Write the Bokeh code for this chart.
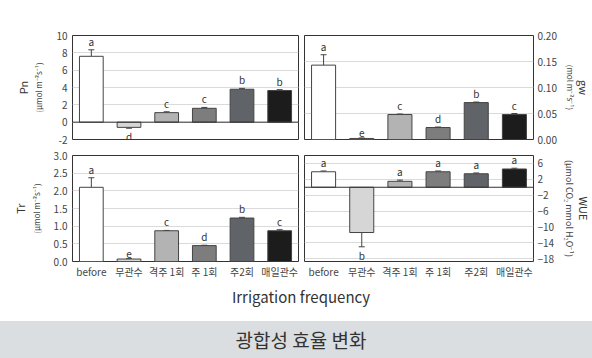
from bokeh.plotting import figure
from bokeh.layouts import column, row
from bokeh.models import (ColumnDataSource, LinearAxis, FixedTicker, Span, Whisker,
                          TeeHead, Div, Range1d, NumeralTickFormatter, FactorRange)
from bokeh.embed import file_html
from bokeh.resources import INLINE
from bokeh.core.properties import value

# ---------------- data ----------------
categories = ["before", "무관수", "격주 1회", "주 1회", "주2회", "매일관수"]
bar_colors = ["#ffffff", "#d6d6d6", "#b3b3b3", "#7d7d7d", "#606367", "#1c1c1c"]

pn_values = [7.6, -0.6, 1.1, 1.6, 3.8, 3.65]
pn_errors = [0.75, 0.1, 0.1, 0.1, 0.1, 0.1]
pn_letters = ["a", "d", "c", "c", "b", "b"]
pn_ticks = [-2, 0, 2, 4, 6, 8, 10]

gw_values = [0.143, 0.002, 0.048, 0.023, 0.071, 0.048]
gw_errors = [0.02, 0.001, 0.001, 0.001, 0.001, 0.002]
gw_letters = ["a", "e", "c", "d", "b", "c"]
gw_ticks = [0.0, 0.05, 0.10, 0.15, 0.20]

tr_values = [2.1, 0.07, 0.87, 0.45, 1.23, 0.87]
tr_errors = [0.27, 0.01, 0.01, 0.01, 0.02, 0.03]
tr_letters = ["a", "e", "c", "d", "b", "c"]
tr_ticks = [0.0, 0.5, 1.0, 1.5, 2.0, 2.5, 3.0]

wue_values = [3.9, -11.4, 1.5, 3.9, 3.4, 4.6]
wue_errors = [0.2, 3.6, 0.3, 0.2, 0.2, 0.2]
wue_letters = ["a", "b", "a", "a", "a", "a"]
wue_ticks = [-18, -14, -10, -6, -2, 2, 6]
wue_tick_labels = ["−18", "−14", "−10", "−6", "−2", "2", "6"]

x_title = "Irrigation frequency"
caption = "광합성 효율 변화"

FONT = "Noto Sans CJK KR"
LINE = "#444444"
TXT = "#444444"


def make_panel(vals, errs, letters, yr, ticks, fmt, unit_label, name_label, side,
               show_x, zero_line, fw, fh, bl, br, bt, bb, unit_size="8px",
               name_size="11px", tick_standoff=5, unit_standoff=9,
               name_standoff=0, overrides=None):
    ends = [v + e if v >= 0 else v - e for v, e in zip(vals, errs)]
    src = ColumnDataSource(dict(cat=categories, val=vals, end=ends,
                                color=bar_colors, letter=letters))
    p = figure(x_range=FactorRange(*categories, range_padding=0),
               y_range=Range1d(*yr), frame_width=fw, frame_height=fh,
               output_backend="svg", toolbar_location=None,
               y_axis_location=side, min_border_left=bl, min_border_right=br,
               min_border_top=bt, min_border_bottom=bb)
    p.background_fill_color = "white"
    p.border_fill_color = "white"
    p.outline_line_color = "#333333"
    p.outline_line_width = 1
    p.xgrid.visible = False
    p.ygrid.ticker = FixedTicker(ticks=ticks)
    p.ygrid.grid_line_color = "#dadada"

    p.vbar(x="cat", top="val", bottom=0, width=0.63, fill_color="color",
           line_color=LINE, line_width=1, source=src)
    if zero_line:
        p.add_layout(Span(location=0, dimension="width", line_color="#333333",
                          line_width=1))
    p.add_layout(Whisker(source=src, base="cat", lower="val", upper="end",
                         dimension="height", line_color=LINE, line_width=1,
                         upper_head=TeeHead(size=6, line_color=LINE, line_width=1),
                         lower_head=None))

    pos = [i for i, v in enumerate(vals) if v >= 0]
    neg = [i for i, v in enumerate(vals) if v < 0]
    for idx, base, off in ((pos, "bottom", -1), (neg, "top", 1)):
        if not idx:
            continue
        s = ColumnDataSource(dict(cat=[categories[i] for i in idx],
                                  end=[ends[i] for i in idx],
                                  letter=[letters[i] for i in idx]))
        p.text(x="cat", y="end", text="letter", source=s, text_align="center",
               text_baseline=base, y_offset=off, text_font=value(FONT),
               text_font_size="10px", text_color="#333333")

    yax = p.yaxis[0]
    yax.ticker = FixedTicker(ticks=ticks)
    yax.formatter = NumeralTickFormatter(format=fmt)
    if overrides:
        yax.major_label_overrides = overrides
    yax.axis_line_color = None
    yax.major_tick_line_color = None
    yax.minor_tick_line_color = None
    yax.major_tick_out = 0
    yax.major_label_standoff = tick_standoff
    yax.major_label_text_font = FONT
    yax.major_label_text_font_size = "10px"
    yax.major_label_text_color = TXT
    yax.axis_label = unit_label
    yax.axis_label_text_font = FONT
    yax.axis_label_text_font_size = unit_size
    yax.axis_label_text_font_style = "normal"
    yax.axis_label_text_color = TXT
    yax.axis_label_standoff = unit_standoff

    outer = LinearAxis(ticker=FixedTicker(ticks=[]), axis_label=name_label,
                       axis_line_color=None, major_tick_line_color=None,
                       minor_tick_line_color=None, major_tick_out=0,
                       major_tick_in=0, major_label_standoff=0,
                       major_label_text_font_size="0px",
                       axis_label_text_font=FONT, axis_label_text_font_size=name_size,
                       axis_label_text_font_style="normal",
                       axis_label_text_color="#333333",
                       axis_label_standoff=name_standoff)
    p.add_layout(outer, side)

    xax = p.xaxis[0]
    if show_x:
        xax.axis_line_color = None
        xax.major_tick_line_color = None
        xax.minor_tick_line_color = None
        xax.major_tick_out = 0
        xax.major_label_standoff = 2
        xax.major_label_text_font = FONT
        xax.major_label_text_font_size = "10px"
        xax.major_label_text_color = TXT
    else:
        xax.visible = False
    return p


p1 = make_panel(pn_values, pn_errors, pn_letters, (-2, 10), pn_ticks, "0",
                "(μmol m⁻²s⁻¹)", "Pn", "left", False, True,
                226, 104, 72, 3, 35, 8)
p2 = make_panel(gw_values, gw_errors, gw_letters, (0, 0.2), gw_ticks, "0.00",
                "(mol m⁻²s⁻¹)", "gw", "right", False, False,
                229, 104, 3, 59, 35, 8, tick_standoff=4, unit_standoff=5,
                name_standoff=-3)
p3 = make_panel(tr_values, tr_errors, tr_letters, (0, 3.0), tr_ticks, "0.0",
                "(μmol m⁻²s⁻¹)", "Tr", "left", True, False,
                226, 106, 72, 3, 8, 20)
p4 = make_panel(wue_values, wue_errors, wue_letters, (-18.7, 8), wue_ticks, "0",
                "(μmol CO₂ mmol H₂O⁻¹)", "WUE", "right", True, True,
                229, 106, 3, 59, 8, 20, unit_size="9px", name_size="11px",
                tick_standoff=4, unit_standoff=6, name_standoff=-4,
                overrides={t: s for t, s in zip(wue_ticks, wue_tick_labels)})

title_div = Div(text=(f'<div style="width:592px;height:40px;box-sizing:border-box;'
                      f'padding-left:10px;text-align:center;'
                      f'font-family:\'{FONT}\';font-size:15px;color:#333;'
                      f'line-height:32px;">{x_title}</div>'),
                width=592, height=40, margin=0)
cap_div = Div(text=(f'<div style="width:592px;height:37px;box-sizing:border-box;'
                    f'padding-top:7px;padding-left:10px;background:#dadee1;'
                    f'text-align:center;font-family:\'{FONT}\';font-size:19px;'
                    f'color:#333;line-height:24px;overflow:hidden;">{caption}</div>'),
              width=592, height=37, margin=0)

layout = column(row(p1, p2), row(p3, p4), title_div, cap_div, spacing=0)

open("out.html", "w").write(file_html(layout, INLINE))
